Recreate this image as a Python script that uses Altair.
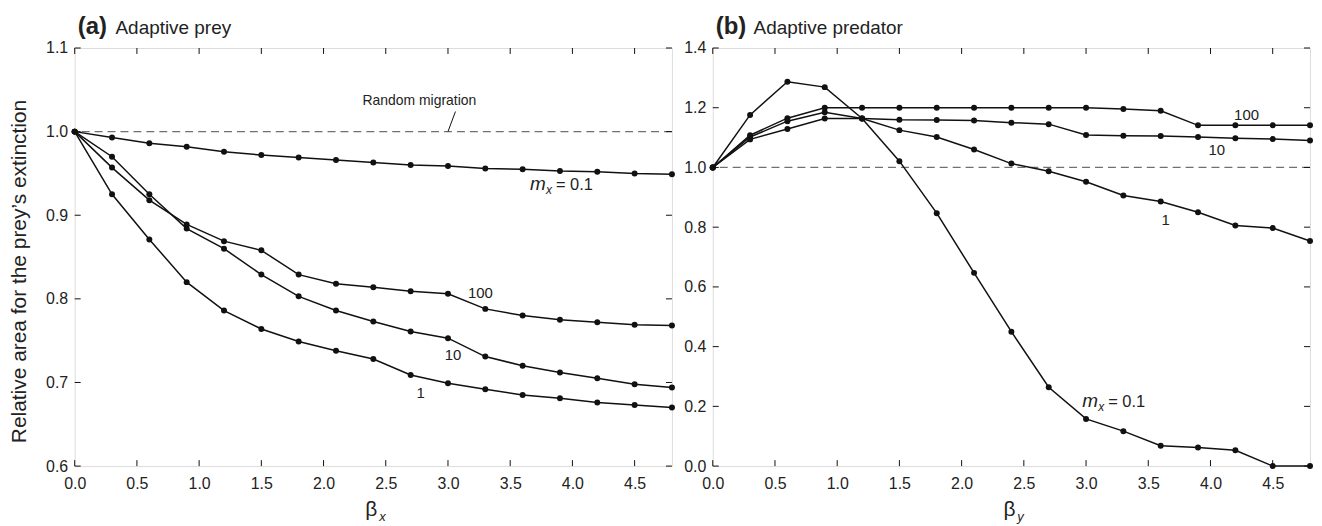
import altair as alt
import pandas as pd

# ---------------- data ----------------
beta = [0.0, 0.3, 0.6, 0.9, 1.2, 1.5, 1.8, 2.1, 2.4, 2.7, 3.0, 3.3, 3.6, 3.9, 4.2, 4.5, 4.8]

# (a) Adaptive prey
a_m01 = [1.0, 0.993, 0.986, 0.982, 0.976, 0.972, 0.969, 0.966, 0.963, 0.960, 0.959, 0.956, 0.955, 0.953, 0.952, 0.950, 0.949]
a_m1 = [1.0, 0.925, 0.871, 0.820, 0.786, 0.764, 0.749, 0.738, 0.728, 0.709, 0.699, 0.692, 0.685, 0.681, 0.676, 0.673, 0.670]
a_m10 = [1.0, 0.970, 0.925, 0.884, 0.860, 0.829, 0.803, 0.786, 0.773, 0.761, 0.753, 0.731, 0.720, 0.712, 0.705, 0.698, 0.694]
a_m100 = [1.0, 0.957, 0.918, 0.889, 0.869, 0.858, 0.829, 0.818, 0.814, 0.809, 0.806, 0.788, 0.780, 0.775, 0.772, 0.769, 0.768]

# (b) Adaptive predator
b_m01 = [1.0, 1.176, 1.287, 1.269, 1.164, 1.021, 0.847, 0.647, 0.450, 0.264, 0.158, 0.117, 0.068, 0.062, 0.053, 0.0, 0.0]
b_m1 = [1.0, 1.102, 1.155, 1.185, 1.164, 1.125, 1.102, 1.060, 1.013, 0.987, 0.952, 0.906, 0.886, 0.850, 0.806, 0.797, 0.754]
b_m10 = [1.0, 1.094, 1.129, 1.164, 1.164, 1.160, 1.159, 1.157, 1.150, 1.145, 1.109, 1.106, 1.105, 1.102, 1.098, 1.095, 1.090]
b_m100 = [1.0, 1.108, 1.165, 1.200, 1.200, 1.200, 1.200, 1.200, 1.200, 1.200, 1.200, 1.196, 1.190, 1.141, 1.141, 1.141, 1.141]

x_ticks = [0.0, 0.5, 1.0, 1.5, 2.0, 2.5, 3.0, 3.5, 4.0, 4.5]
a_y_ticks = [0.6, 0.7, 0.8, 0.9, 1.0, 1.1]
b_y_ticks = [0.0, 0.2, 0.4, 0.6, 0.8, 1.0, 1.2, 1.4]

# curve labels: text, beta, value
a_lab_text = ["100", "10", "1"]
a_lab_beta = [3.26, 3.04, 2.78]
a_lab_val = [0.807, 0.733, 0.687]
b_lab_text = ["100", "10", "1"]
b_lab_beta = [4.29, 4.05, 3.64]
b_lab_val = [1.175, 1.057, 0.823]

# "m_x = 0.1" anchors (left edge, baseline)
a_mx_beta, a_mx_val = 3.66, 0.930
b_mx_beta, b_mx_val = 2.97, 0.197

# random migration annotation
rm_text_beta, rm_text_val = 2.77, 1.037
rm_lead_beta = [3.0, 3.06]
rm_lead_val = [1.0, 1.024]

W, H = 600, 420
FONT = "Liberation Sans"
INK = "#111111"
TXT = "#222222"


def long_df(series):
    rows = []
    for name, vals in series.items():
        for b, v in zip(beta, vals):
            rows.append({"beta": b, "value": v, "m": name})
    return pd.DataFrame(rows)


def panel(series, y_domain, y_ticks, y_title, lab_text, lab_beta, lab_val,
          mx_beta, mx_val, tag, name, sub, extra=None):
    xs = alt.Scale(domain=[0, 4.8], nice=False, zero=False)
    ys = alt.Scale(domain=y_domain, nice=False, zero=False)
    x_axis = alt.Axis(values=x_ticks, format=".1f", title=None, ticks=False, tickSize=0,
                      domain=False, grid=False, labelPadding=10, labelFontSize=16,
                      labelFont=FONT, labelColor=TXT, labelFlush=False)
    if y_title:
        y_axis = alt.Axis(values=y_ticks, format=".1f", title=y_title, ticks=False, tickSize=0,
                          domain=False, grid=False, labelPadding=7, labelFontSize=16,
                          labelFont=FONT, labelColor=TXT, titleFont=FONT, titleFontSize=21,
                          titleFontWeight="normal", titleColor=TXT, titlePadding=16,
                          titleY=224, labelFlush=False)
    else:
        y_axis = alt.Axis(values=y_ticks, format=".1f", title=None, ticks=False, tickSize=0,
                          domain=False, grid=False, labelPadding=7, labelFontSize=16,
                          labelFont=FONT, labelColor=TXT, labelFlush=False)

    def X():
        return alt.X("beta:Q", scale=xs, axis=x_axis)

    def Y():
        return alt.Y("value:Q", scale=ys, axis=y_axis)

    df = long_df(series)
    base = alt.Chart(df).encode(x=X(), y=Y(), detail="m:N")
    line = base.mark_line(color=INK, strokeWidth=1.5)
    pts = base.mark_circle(color=INK, size=36, opacity=1)

    ref = alt.Chart(pd.DataFrame({"value": [1.0]})).mark_rule(
        color="#707070", strokeWidth=1.3, strokeDash=[8, 5]).encode(y=Y())

    xt = pd.DataFrame({"beta": x_ticks})
    yt = pd.DataFrame({"value": y_ticks})
    tb = alt.Chart(xt).mark_rule(color=INK).encode(x=X(), y=alt.value(H), y2=alt.value(H - 6))
    tt = alt.Chart(xt).mark_rule(color=INK).encode(x=X(), y=alt.value(0), y2=alt.value(6))
    tl = alt.Chart(yt).mark_rule(color=INK).encode(y=Y(), x=alt.value(0), x2=alt.value(6))
    tr = alt.Chart(yt).mark_rule(color=INK).encode(y=Y(), x=alt.value(W), x2=alt.value(W - 6))

    labs = alt.Chart(pd.DataFrame({"beta": lab_beta, "value": lab_val, "t": lab_text})).mark_text(
        font=FONT, fontSize=15, color=TXT, align="center", baseline="middle").encode(
        x=X(), y=Y(), text="t:N")

    mxd = pd.DataFrame({"beta": [mx_beta], "value": [mx_val], "m": ["m"], "s": ["x"], "r": ["= 0.1"]})
    mx1 = alt.Chart(mxd).mark_text(font=FONT, fontSize=19, fontStyle="italic", color=TXT,
                                   align="left", baseline="alphabetic").encode(x=X(), y=Y(), text="m:N")
    mx2 = alt.Chart(mxd).mark_text(font=FONT, fontSize=12, fontStyle="italic", color=TXT,
                                   align="left", baseline="alphabetic", dx=16, dy=4).encode(
        x=X(), y=Y(), text="s:N")
    mx3 = alt.Chart(mxd).mark_text(font=FONT, fontSize=16.5, color=TXT,
                                   align="left", baseline="alphabetic", dx=26).encode(
        x=X(), y=Y(), text="r:N")

    td = pd.DataFrame({"tag": [tag], "name": [name], "b": ["\u03b2"], "sub": [sub]})
    t1 = alt.Chart(td).mark_text(font=FONT, fontSize=24, fontWeight="bold", color=TXT,
                                 align="left", baseline="alphabetic").encode(
        text="tag:N", x=alt.value(3), y=alt.value(-14))
    t2 = alt.Chart(td).mark_text(font=FONT, fontSize=19, color=TXT,
                                 align="left", baseline="alphabetic").encode(
        text="name:N", x=alt.value(41), y=alt.value(-14))
    xb = alt.Chart(td).mark_text(font=FONT, fontSize=21, color=TXT,
                                 align="center", baseline="alphabetic").encode(
        text="b:N", x=alt.value(W / 2 - 2), y=alt.value(H + 50))
    xsub = alt.Chart(td).mark_text(font=FONT, fontSize=13, fontStyle="italic", color=TXT,
                                   align="left", baseline="alphabetic").encode(
        text="sub:N", x=alt.value(W / 2 + 6), y=alt.value(H + 55))

    layers = [ref, line, pts, tb, tt, tl, tr, labs, mx1, mx2, mx3, t1, t2, xb, xsub]
    if extra is not None:
        layers += extra(X, Y)
    return alt.layer(*layers).properties(width=W, height=H)


def rm_layers(X, Y):
    txt = alt.Chart(pd.DataFrame({"beta": [rm_text_beta], "value": [rm_text_val],
                                  "t": ["Random migration"]})).mark_text(
        font=FONT, fontSize=14, color=TXT, align="center", baseline="middle").encode(
        x=X(), y=Y(), text="t:N")
    lead = alt.Chart(pd.DataFrame({"beta": [rm_lead_beta[0]], "value": [rm_lead_val[0]],
                                   "beta2": [rm_lead_beta[1]], "value2": [rm_lead_val[1]]})).mark_rule(
        color=INK, strokeWidth=1).encode(x=X(), y=Y(), x2="beta2:Q", y2="value2:Q")
    return [txt, lead]


left = panel({"0.1": a_m01, "1": a_m1, "10": a_m10, "100": a_m100}, [0.6, 1.1], a_y_ticks,
             "Relative area for the prey\u2019s extinction", a_lab_text, a_lab_beta, a_lab_val,
             a_mx_beta, a_mx_val, "(a)", "Adaptive prey", "x", extra=rm_layers)
right = panel({"0.1": b_m01, "1": b_m1, "10": b_m10, "100": b_m100}, [0.0, 1.4], b_y_ticks,
              None, b_lab_text, b_lab_beta, b_lab_val,
              b_mx_beta, b_mx_val, "(b)", "Adaptive predator", "y")

chart = alt.hconcat(left, right, spacing=41, bounds="flush").properties(
    padding={"left": 0, "top": 5, "right": 0, "bottom": 0}
).configure_view(stroke=INK, strokeWidth=1).configure(background="white")

chart.save("out.html", embed_options={"renderer": "svg", "actions": False})
